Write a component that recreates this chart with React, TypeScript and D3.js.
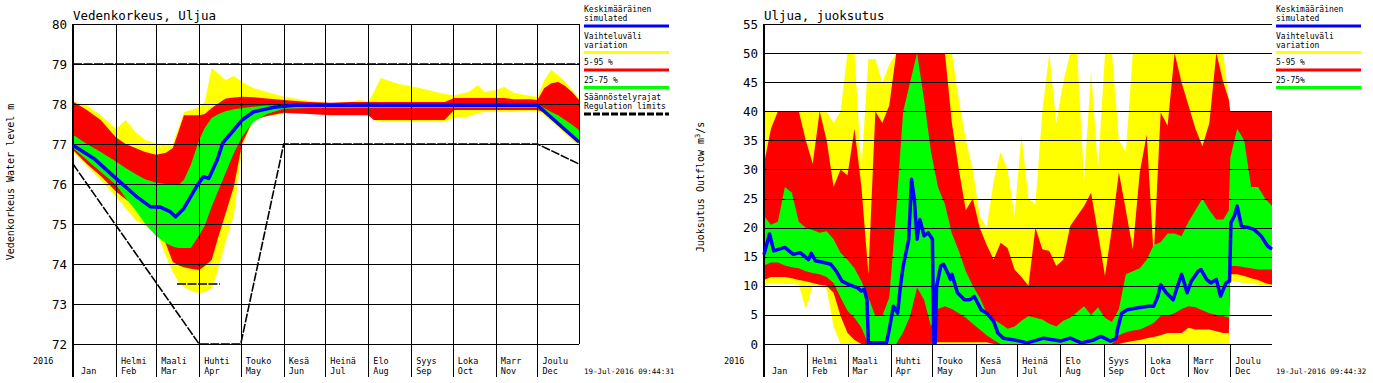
import React from "react";
import * as d3 from "d3";

// ---------- shared axis data ----------
const monthStartDays = [0, 31, 60, 91, 121, 152, 182, 213, 244, 274, 305, 335];
const monthNamesFi = ["", "Helmi", "Maali", "Huhti", "Touko", "Kesä", "Heinä", "Elo", "Syys", "Loka", "Marr", "Joulu"];
const monthNamesEn = ["Jan", "Feb", "Mar", "Apr", "May", "Jun", "Jul", "Aug", "Sep", "Oct", "Nov", "Dec"];
const yearLabel = "2016";
const levelTicks = [72, 73, 74, 75, 76, 77, 78, 79, 80];
const flowTicks = [0, 5, 10, 15, 20, 25, 30, 35, 40, 45, 50, 55];

// ---------- water level (Vedenkorkeus) ----------
const levelDays = [0, 10, 20, 31, 38, 45, 52, 60, 67, 72, 76, 80, 85, 91, 95, 100, 105, 110, 116, 122, 130, 140, 152, 170, 186, 200, 207, 213, 217, 222, 235, 250, 268, 275, 285, 292, 297, 305, 311, 318, 330, 335, 340, 345, 350, 355, 360, 365];
const levelMax = [78.06, 77.97, 77.72, 77.38, 77.6, 77.3, 77.1, 77.02, 77.0, 77.0, 77.4, 77.8, 77.85, 77.92, 78.05, 78.9, 78.75, 78.6, 78.7, 78.55, 78.4, 78.3, 78.18, 78.08, 78.02, 78.05, 78.1, 78.05, 78.3, 78.65, 78.5, 78.4, 78.25, 78.22, 78.3, 78.47, 78.3, 78.35, 78.43, 78.28, 78.2, 78.18, 78.6, 78.85, 78.72, 78.55, 78.35, 78.15];
const level95 = [78.06, 77.85, 77.6, 77.16, 77.0, 76.9, 76.8, 76.73, 76.78, 76.9, 77.3, 77.72, 77.72, 77.72, 77.75, 77.9, 78.02, 78.14, 78.16, 78.18, 78.17, 78.14, 78.1, 78.05, 78.03, 78.05, 78.05, 78.05, 78.05, 78.05, 78.05, 78.05, 78.05, 78.15, 78.15, 78.15, 78.15, 78.15, 78.15, 78.12, 78.12, 78.1, 78.4, 78.52, 78.55, 78.45, 78.3, 78.1];
const level75 = [77.23, 77.0, 76.8, 76.56, 76.4, 76.25, 76.12, 76.03, 76.0, 75.98, 75.97, 76.1, 76.48, 77.1, 77.4, 77.65, 77.75, 77.82, 77.87, 77.9, 77.93, 77.96, 77.98, 77.99, 77.99, 77.99, 77.99, 77.99, 77.99, 77.99, 77.99, 77.99, 77.99, 77.99, 77.99, 77.99, 77.99, 77.99, 77.99, 77.99, 77.99, 77.99, 77.9, 77.8, 77.72, 77.6, 77.48, 77.35];
const level25 = [76.9, 76.6, 76.3, 75.98, 75.65, 75.35, 75.0, 74.7, 74.52, 74.44, 74.4, 74.4, 74.4, 74.72, 74.95, 75.43, 75.85, 76.27, 76.77, 77.18, 77.55, 77.75, 77.88, 77.9, 77.9, 77.9, 77.9, 77.9, 77.9, 77.9, 77.9, 77.9, 77.9, 77.9, 77.9, 77.9, 77.9, 77.9, 77.9, 77.9, 77.9, 77.9, 77.79, 77.63, 77.48, 77.33, 77.17, 77.02];
const level5 = [76.85, 76.5, 76.2, 75.81, 75.62, 75.45, 75.27, 75.1, 74.5, 74.05, 73.97, 73.92, 73.88, 73.85, 73.95, 74.1, 74.7, 75.25, 75.93, 77.02, 77.6, 77.7, 77.78, 77.75, 77.72, 77.72, 77.72, 77.72, 77.6, 77.6, 77.6, 77.6, 77.6, 77.85, 77.85, 77.85, 77.85, 77.85, 77.85, 77.85, 77.85, 77.85, 77.79, 77.63, 77.48, 77.33, 77.17, 77.02];
const levelMin = [76.8, 76.45, 76.1, 75.68, 75.4, 75.1, 74.95, 74.81, 74.2, 73.8, 73.55, 73.42, 73.33, 73.27, 73.3, 73.38, 73.9, 74.55, 75.2, 76.93, 77.6, 77.7, 77.75, 77.77, 77.8, 77.77, 77.77, 77.77, 77.6, 77.55, 77.55, 77.55, 77.55, 77.65, 77.68, 77.77, 77.8, 77.8, 77.8, 77.8, 77.82, 77.82, 77.72, 77.56, 77.41, 77.26, 77.1, 76.95];
const levelMeanDays = [0, 15, 31, 46, 56, 63, 70, 74, 80, 89, 94, 98, 104, 108, 116, 122, 130, 145, 160, 335, 365];
const levelMean = [76.97, 76.64, 76.14, 75.68, 75.43, 75.42, 75.31, 75.18, 75.39, 75.93, 76.18, 76.14, 76.6, 77.02, 77.35, 77.6, 77.8, 77.92, 77.97, 77.97, 77.05];
const regUpperDays = [0, 365];
const regUpper = [79, 79];
const regLowerDays = [0, 91, 121, 152, 335, 365];
const regLower = [76.5, 72, 72, 77, 77, 76.5];
const regSpringDays = [75, 106];
const regSpring = [73.5, 73.5];

// ---------- outflow (Juoksutus) ----------
const flowDays = [0, 5, 10, 15, 20, 25, 30, 35, 40, 45, 50, 55, 60, 65, 70, 75, 80, 85, 90, 95, 100, 105, 110, 115, 120, 125, 130, 135, 140, 145, 150, 155, 160, 165, 170, 175, 180, 185, 190, 195, 200, 205, 210, 215, 220, 225, 230, 235, 240, 245, 250, 255, 260, 265, 270, 275, 280, 285, 290, 295, 300, 305, 310, 315, 320, 325, 330, 334, 335, 340, 345, 350, 355, 360, 365];
const flowMax = [40, 40, 40, 40, 40, 40, 40, 40, 40, 40, 38, 40, 50, 50, 30, 49, 49, 45, 48, 50,
  50, 50, 50, 50, 50, 50, 50, 50, 42, 35, 30, 22, 20, 28, 33, 30, 22, 36, 25, 24,
  40, 50, 38, 45, 50, 50, 28, 47, 30, 50, 50, 35, 33, 50, 50, 50, 50, 50, 50, 50,
  50, 50, 50, 50, 50, 50, 50, 42, 40, 40, 40, 40, 40, 40, 40];
const flow95 = [31, 37, 40, 40, 40, 40, 35, 31, 40, 35, 27, 30, 29, 37, 27, 12, 40, 38, 41, 50,
  50, 50, 50, 50, 50, 50, 50, 38, 30, 23, 25, 20, 17, 14.5, 17.4, 16.5, 12.8, 11.5, 10, 20,
  16.3, 16, 13.4, 14.5, 20.3, 22, 23.7, 26, 19, 11.7, 20, 29.5, 23, 16.3, 29.5, 36, 15, 39.8, 37.5, 50,
  45, 41, 37, 34, 38, 50, 45, 42, 40, 40, 40, 40, 40, 40, 40];
const flow75 = [22, 20.5, 21, 27, 26, 21, 20, 19.6, 19.1, 19.4, 18, 15.7, 14.5, 13, 10.8, 8, 4.8, 4.8, 8, 23,
  40, 45, 50, 42, 33, 27, 24, 19, 16, 12.5, 10, 8, 5.3, 4.2, 3.5, 2.6, 3, 4, 4.8, 4.5,
  4.2, 3.5, 3, 4, 4.5, 5.5, 6.5, 5, 6.3, 4.5, 3.8, 6, 12, 12.5, 13, 14.5, 17, 17.5, 19, 19,
  18.5, 21, 23, 25, 23, 21.4, 21.4, 23, 32, 37, 35, 27, 27, 25, 23.7];
const flow25 = [13.5, 14, 14, 13.5, 13.2, 13, 12.5, 12.2, 12, 11.5, 10.5, 8, 5.7, 4.5, 2.8, 0, 0, 0, 0, 0,
  2, 4.8, 9.7, 7.6, 3, 6, 6.5, 6, 5.3, 4.5, 3.5, 2.5, 1.5, 0.7, 0, 0, 0, 0, 0, 0,
  0, 0, 0, 0, 0, 0, 0, 0, 0, 0, 0, 1.5, 2, 2.3, 2.5, 3, 3.6, 4.8, 4.8, 5.3,
  6, 6.5, 6.3, 5.8, 5.3, 5, 4.8, 4.5, 13.4, 13.4, 13.2, 13, 12.8, 12.8, 12.8];
const flow5 = [11, 11.5, 11.5, 11.5, 11.3, 11, 10.8, 10.5, 10.2, 10, 8.8, 4.8, 1.9, 0.7, 0, 0, 0, 0, 0, 0,
  0, 0, 0, 0, 0, 0.3, 0.3, 0.3, 0.3, 0.3, 0.3, 0.3, 0.3, 0, 0, 0, 0, 0, 0, 0,
  0, 0, 0, 0, 0, 0, 0, 0, 0, 0, 0, 0, 0.3, 0.5, 0.7, 1, 1.2, 1.5, 1.9, 1.9,
  1.9, 2.8, 2.5, 2.5, 2.5, 2.2, 1.9, 1.9, 12, 12, 11.7, 11.3, 11, 10.5, 10.2];
const flowMin = [10, 10.5, 10.5, 10.3, 10.3, 10.2, 6, 10, 9.8, 9.5, 3, 0, 0, 0, 0, 0, 0, 0, 0, 0,
  0, 0, 0, 0, 0, 0, 0, 0, 0, 0, 0, 0, 0, 0, 0, 0, 0, 0, 0, 0,
  0, 0, 0, 0, 0, 0, 0, 0, 0, 0, 0, 0, 0, 0, 0, 0, 0, 0, 0, 0,
  0, 0, 0, 0, 0, 0, 0, 0, 10.8, 10.7, 10.5, 10.4, 10.2, 10, 10];
const flowMeanDays = [0, 4, 7, 15, 21, 26, 32, 34, 37, 43, 48, 52, 56, 61, 67, 70, 72, 74, 75, 88, 90, 93, 96, 98, 100, 104, 106, 108, 110, 112, 115, 118, 121, 122, 123, 124, 127, 129, 132, 134, 135, 139, 144, 148, 151, 156, 160, 165, 168, 172, 180, 189, 201, 213, 220, 228, 237, 242, 249, 253, 254, 257, 261, 268, 276, 280, 283, 285, 289, 294, 296, 300, 302, 304, 307, 312, 314, 318, 321, 325, 328, 332, 334.5, 335.5, 338, 340, 343, 348, 352, 357, 362, 365];
const flowMean = [15.4, 18.9, 16, 16.6, 15.4, 15.7, 14.5, 15.6, 14.3, 14, 13.7, 12.5, 10.8, 10.2, 9.7, 9.1, 9.4, 7.6, 0.2, 0.2, 2.5, 6.5, 5.3, 9.9, 13.4, 18, 28.3, 24.9, 18, 21.4, 18.6, 19.1, 18, 0.2, 0.2, 9.9, 13.4, 13.7, 12.2, 11.1, 12, 8.8, 7.6, 7.6, 8.2, 5.9, 5.3, 3.9, 1.9, 1, 0.7, 0.2, 1, 0.5, 1, 0.2, 0.7, 1.3, 0.5, 1, 2.5, 5.3, 5.9, 6.2, 6.5, 6.5, 8.2, 10.2, 8.8, 7.6, 9.1, 12, 10.5, 8.8, 10.8, 12.5, 12.8, 11.1, 10.5, 11.1, 8.2, 10.5, 10.8, 20.9, 22, 23.7, 20.3, 20, 19.7, 18.6, 16.8, 16.3];

// ---------- legend & labels ----------
const legendLeft = [
  { lines: ["Keskimääräinen", "simulated"], color: "#0000ff" },
  { lines: ["Vaihteluväli", "variation"], color: "#ffff00" },
  { lines: ["5-95 %"], color: "#ff0000" },
  { lines: ["25-75 %"], color: "#00ff00" },
  { lines: ["Säännöstelyrajat", "Regulation limits"], color: "#000000", dashed: true },
];
const legendRight = [
  { lines: ["Keskimääräinen", "simulated"], color: "#0000ff" },
  { lines: ["Vaihteluväli", "variation"], color: "#ffff00" },
  { lines: ["5-95 %"], color: "#ff0000" },
  { lines: ["25-75%"], color: "#00ff00" },
];

const FONT = "'DejaVu Sans Mono', 'Liberation Mono', monospace";
const W = 1373;
const H = 383;
const YELLOW = "#ffff00";
const RED = "#ff0000";
const GREEN = "#00ff00";
const BLUE = "#0000ff";

type LegendEntry = { lines: string[]; color: string; dashed?: boolean };

function Legend({ x, entries }: { x: number; entries: LegendEntry[] }) {
  const items: React.ReactElement[] = [];
  let y = 12;
  entries.forEach((e, i) => {
    e.lines.forEach((t, j) => {
      items.push(
        <text key={`t${i}-${j}`} x={x} y={y} fontSize={8} fontFamily={FONT} fill="#000">
          {t}
        </text>
      );
      if (j < e.lines.length - 1) y += 9;
    });
    const by = y + 5;
    items.push(
      <line
        key={`b${i}`}
        x1={x}
        x2={x + 85}
        y1={by}
        y2={by}
        stroke={e.color}
        strokeWidth={3}
        strokeDasharray={e.dashed ? "7,2" : undefined}
      />
    );
    y = by + 12.5;
  });
  return <g>{items}</g>;
}

type Band = { lo: number[]; hi: number[]; color: string };

type PanelProps = {
  x0: number;
  x1: number;
  top: number;
  bottom: number;
  yDomain: [number, number];
  ticks: number[];
  days: number[];
  bands: Band[];
  meanDays: number[];
  mean: number[];
  vGrid: boolean;
  title: string;
  yTitle: React.ReactNode;
  yTitleX: number;
  yTitleY: number;
  yearX: number;
  legendX: number;
  legend: LegendEntry[];
  timestamp: string;
  regs?: { days: number[]; vals: number[] }[];
};

function Panel(p: PanelProps) {
  const xs = d3.scaleLinear().domain([0, 365]).range([p.x0, p.x1]);
  const ys = d3.scaleLinear().domain(p.yDomain).range([p.bottom, p.top]);
  const c = (v: number) => Math.round(v) + 0.5;

  const bandPaths = p.bands.map((b) =>
    d3
      .area<number>()
      .x((d) => xs(d))
      .y0((_, i) => ys(b.lo[i]))
      .y1((_, i) => ys(b.hi[i]))(p.days)
  );
  const meanPath = d3
    .line<number>()
    .x((d) => xs(d))
    .y((_, i) => ys(p.mean[i]))(p.meanDays);

  const tickBottom = 377;

  return (
    <g>
      {p.bands.map((b, i) => (
        <path key={`band${i}`} d={bandPaths[i] || ""} fill={b.color} stroke="none" />
      ))}

      {p.ticks.map((t) => (
        <line
          key={`h${t}`}
          x1={p.x0}
          x2={p.x1}
          y1={c(ys(t))}
          y2={c(ys(t))}
          stroke="#000"
          strokeWidth={1}
          shapeRendering="crispEdges"
        />
      ))}
      {p.vGrid &&
        monthStartDays.slice(1).map((d) => (
          <line
            key={`v${d}`}
            x1={c(xs(d))}
            x2={c(xs(d))}
            y1={p.top}
            y2={p.bottom}
            stroke="#000"
            strokeWidth={1}
            shapeRendering="crispEdges"
          />
        ))}
      {p.vGrid && (
        <line
          x1={c(p.x1)}
          x2={c(p.x1)}
          y1={p.top}
          y2={p.bottom}
          stroke="#000"
          strokeWidth={1}
          shapeRendering="crispEdges"
        />
      )}
      <line x1={p.x0} x2={p.x0} y1={p.top} y2={tickBottom} stroke="#000" strokeWidth={2} shapeRendering="crispEdges" />
      {monthStartDays.slice(1).map((d) => (
        <line
          key={`mt${d}`}
          x1={c(xs(d))}
          x2={c(xs(d))}
          y1={p.bottom}
          y2={tickBottom}
          stroke="#000"
          strokeWidth={1}
          shapeRendering="crispEdges"
        />
      ))}

      {p.regs &&
        p.regs.map((r, i) => (
          <path
            key={`reg${i}`}
            d={
              d3
                .line<number>()
                .x((d) => xs(d))
                .y((_, k) => ys(r.vals[k]))(r.days) || ""
            }
            fill="none"
            stroke="#000"
            strokeWidth={1.6}
            strokeDasharray="9,1.5"
          />
        ))}

      <path d={meanPath || ""} fill="none" stroke={BLUE} strokeWidth={3.5} strokeLinejoin="round" />

      {p.ticks.map((t) => (
        <text
          key={`yl${t}`}
          x={p.x0 - 6}
          y={ys(t) + 4.5}
          textAnchor="end"
          fontSize={12.5}
          fontFamily={FONT}
          fill="#000"
        >
          {t}
        </text>
      ))}

      <text x={p.x0} y={20} fontSize={12.5} fontFamily={FONT} fill="#000">
        {p.title}
      </text>

      <text
        transform={`translate(${p.yTitleX},${p.yTitleY}) rotate(-90)`}
        textAnchor="middle"
        fontSize={10}
        fontFamily={FONT}
        fill="#000"
      >
        {p.yTitle}
      </text>

      <text x={p.yearX} y={364} fontSize={8.5} fontFamily={FONT} fill="#000">
        {yearLabel}
      </text>
      {monthStartDays.map((d, i) => (
        <g key={`ml${i}`}>
          {monthNamesFi[i] && (
            <text x={xs(d) + 5} y={364} fontSize={8.5} fontFamily={FONT} fill="#000">
              {monthNamesFi[i]}
            </text>
          )}
          <text x={xs(d) + (i === 0 ? 8 : 5)} y={374} fontSize={8.5} fontFamily={FONT} fill="#000">
            {monthNamesEn[i]}
          </text>
        </g>
      ))}

      <text x={p.legendX} y={374} fontSize={7.5} fontFamily={FONT} fill="#000">
        {p.timestamp}
      </text>

      <Legend x={p.legendX} entries={p.legend} />
    </g>
  );
}

export default function App() {
  return (
    <svg
      width={W}
      height={H}
      viewBox={`0 0 ${W} ${H}`}
      style={{ position: "absolute", left: 0, top: 0, background: "#fff" }}
    >
      <rect x={0} y={0} width={W} height={H} fill="#fff" />
      <Panel
        x0={73}
        x1={579}
        top={24}
        bottom={344}
        yDomain={[72, 80]}
        ticks={levelTicks}
        days={levelDays}
        bands={[
          { lo: levelMin, hi: levelMax, color: YELLOW },
          { lo: level5, hi: level95, color: RED },
          { lo: level25, hi: level75, color: GREEN },
        ]}
        meanDays={levelMeanDays}
        mean={levelMean}
        vGrid={true}
        title="Vedenkorkeus, Uljua"
        yTitle="Vedenkorkeus Water level m"
        yTitleX={14}
        yTitleY={182}
        yearX={33}
        legendX={584}
        legend={legendLeft}
        timestamp="19-Jul-2016 09:44:31"
        regs={[
          { days: regUpperDays, vals: regUpper },
          { days: regLowerDays, vals: regLower },
          { days: regSpringDays, vals: regSpring },
        ]}
      />
      <Panel
        x0={764}
        x1={1272}
        top={24}
        bottom={344}
        yDomain={[0, 55]}
        ticks={flowTicks}
        days={flowDays}
        bands={[
          { lo: flowMin, hi: flowMax, color: YELLOW },
          { lo: flow5, hi: flow95, color: RED },
          { lo: flow25, hi: flow75, color: GREEN },
        ]}
        meanDays={flowMeanDays}
        mean={flowMean}
        vGrid={false}
        title="Uljua, juoksutus"
        yTitle={
          <>
            <tspan>Juoksutus Outflow m</tspan>
            <tspan dy={-4} fontSize={7}>3</tspan>
            <tspan dy={4}>/s</tspan>
          </>
        }
        yTitleX={704}
        yTitleY={187}
        yearX={724}
        legendX={1276}
        legend={legendRight}
        timestamp="19-Jul-2016 09:44:32"
      />
    </svg>
  );
}
